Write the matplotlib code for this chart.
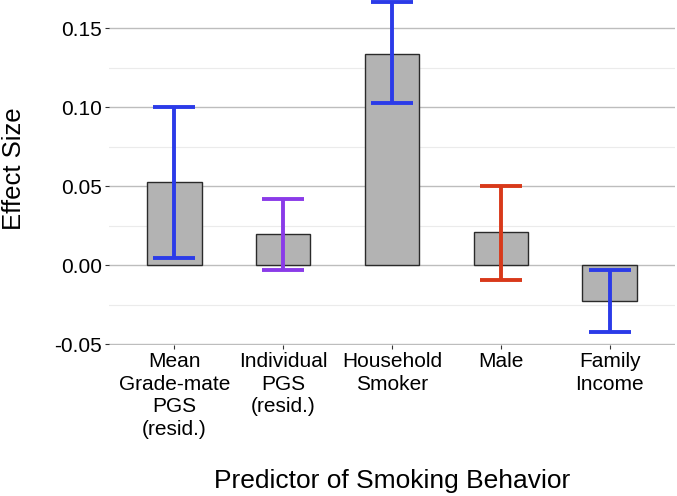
import numpy as np
import matplotlib
matplotlib.use('Agg')
from matplotlib import pyplot as plt

plt.rcParams['font.family'] = ['Liberation Sans', 'DejaVu Sans']

labels = ['Mean\nGrade-mate\nPGS\n(resid.)', 'Individual\nPGS\n(resid.)',
          'Household\nSmoker', 'Male', 'Family\nIncome']
effect = [0.0525, 0.0196, 0.134, 0.021, -0.0228]
ci_low = [0.005, -0.003, 0.1025, -0.009, -0.042]
ci_high = [0.100, 0.0418, 0.1665, 0.050, -0.003]
colors = ['#2b3be8', '#8a3be8', '#2b3be8', '#d8391a', '#2b3be8']

fig = plt.figure(figsize=(6.77, 4.96), dpi=100)
ax = fig.add_axes([0.161, 0.304, 0.836, 0.696])

x = np.arange(1, len(labels) + 1)
ax.bar(x, effect, width=0.5, color='#b3b3b3', edgecolor='#2a2a2a', linewidth=1, zorder=2)
for i in range(len(x)):
    ax.errorbar(x[i], effect[i],
                yerr=[[effect[i] - ci_low[i]], [ci_high[i] - effect[i]]],
                fmt='none', ecolor=colors[i], elinewidth=2.8, capsize=15, capthick=2.8, zorder=3)

ax.set_xlim(0.4, 5.6)
ax.set_ylim(-0.0505, 0.168)
ax.set_yticks([-0.05, 0.0, 0.05, 0.10, 0.15])
ax.set_yticklabels(['-0.05', '0.00', '0.05', '0.10', '0.15'])
ax.set_yticks([-0.025, 0.025, 0.075, 0.125], minor=True)
ax.set_xticks(x)
ax.set_xticklabels(labels, fontsize=15, linespacing=1.24)
ax.tick_params(axis='y', labelsize=15, colors='#333333', length=3, pad=2, labelcolor='black')
ax.tick_params(axis='x', colors='#333333', length=3, pad=2, labelcolor='black')
ax.tick_params(axis='y', which='minor', length=0)
ax.grid(axis='y', which='major', color='#bdbdbd', linewidth=1, zorder=0)
ax.grid(axis='y', which='minor', color='#ebebeb', linewidth=0.8, zorder=0)
for s in ax.spines.values():
    s.set_visible(False)
ax.set_axisbelow(True)

ax.set_ylabel('Effect Size', fontsize=18.5)
ax.yaxis.set_label_coords(-0.146, 0.51)
ax.set_xlabel('Predictor of Smoking Behavior', fontsize=19)
ax.xaxis.set_label_coords(0.5, -0.36)

plt.savefig('out.png', dpi=100)
